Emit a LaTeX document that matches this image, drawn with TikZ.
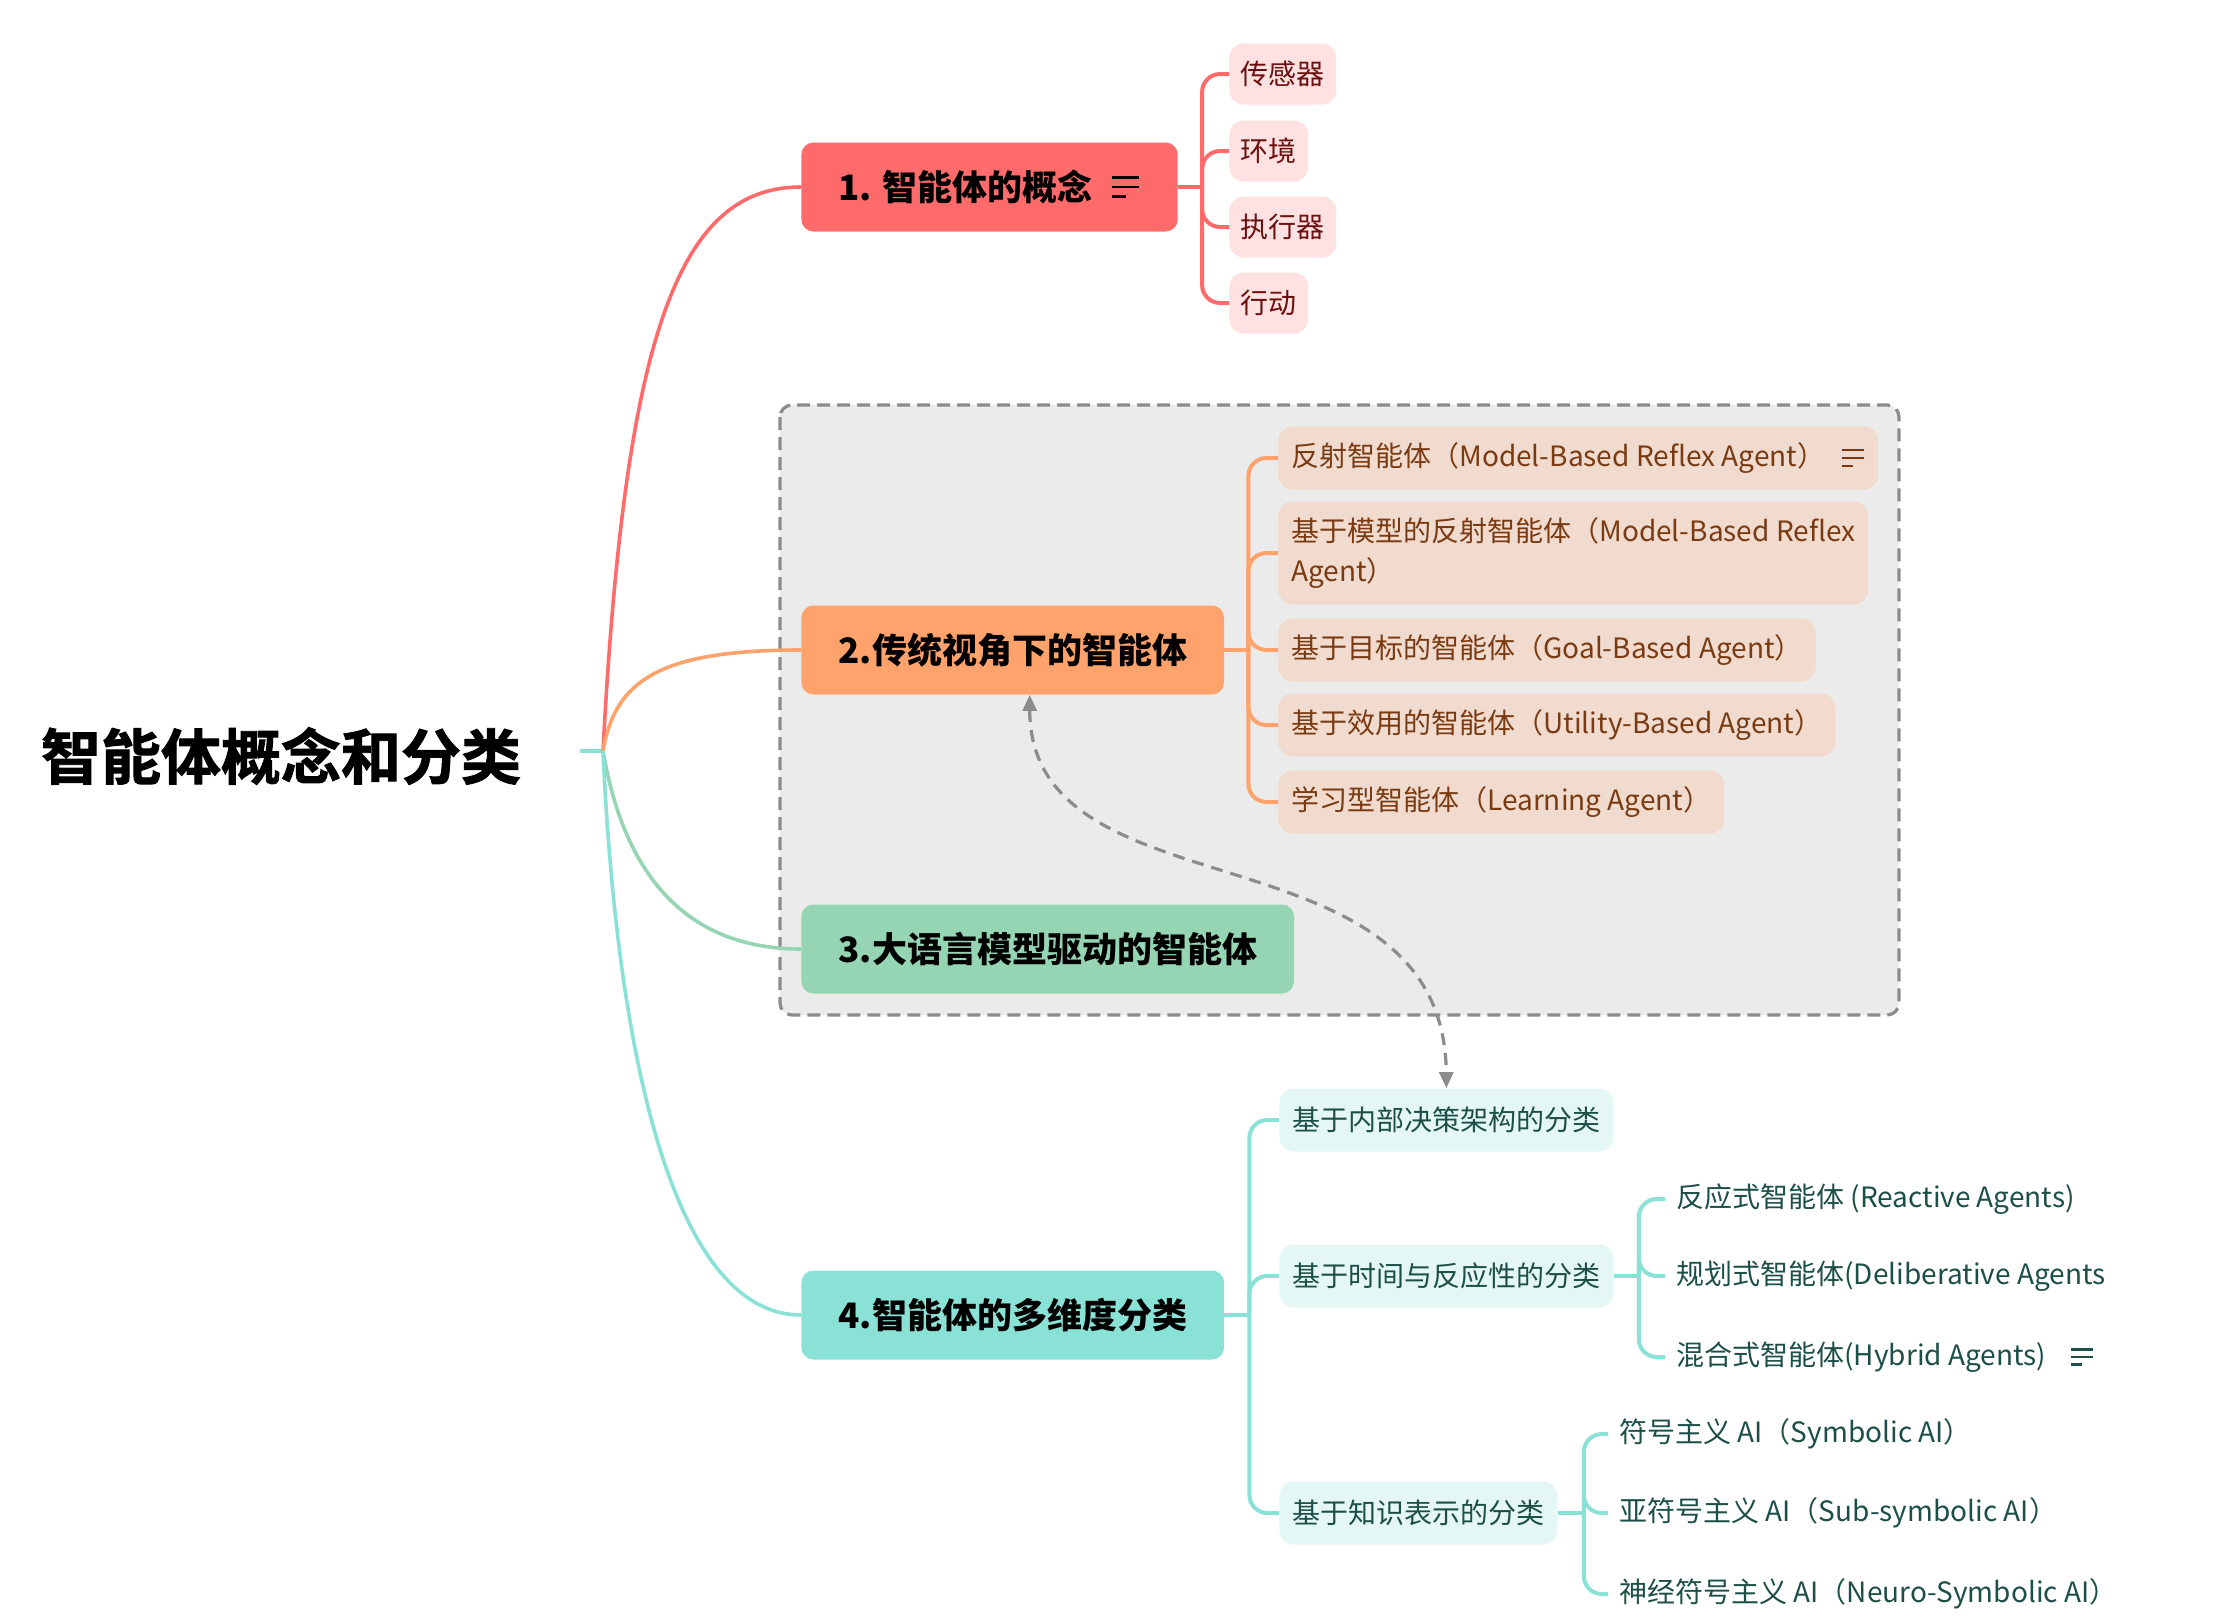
\documentclass[tikz,border=0pt]{standalone}
\usepackage{fontspec}
\setmainfont{Noto Sans CJK SC}
\newfontfamily\titlefont{Noto Sans CJK SC}[UprightFont={* Bold}, FakeBold=1.6]
\usepackage{xcolor}
\definecolor{mapred}{HTML}{FF6B6B}
\definecolor{mappink}{HTML}{FFE1E1}
\definecolor{mapmaroon}{HTML}{6B0F0F}
\definecolor{maporange}{HTML}{FFA26B}
\definecolor{mappeach}{HTML}{F0DBCE}
\definecolor{mapbrown}{HTML}{7A3A12}
\definecolor{mapgreen}{HTML}{95D5B3}
\definecolor{mapteal}{HTML}{8AE1D6}
\definecolor{mapmint}{HTML}{E5F7F4}
\definecolor{mapdark}{HTML}{1C4F47}
\definecolor{mapgray}{HTML}{8C8C8C}
\definecolor{mapbg}{HTML}{EBEBEB}
\usetikzlibrary{positioning,arrows.meta,calc}

% small "notes" marker: three lines
\newcommand\notelines[3][1]{%
  \begin{scope}[shift={(#2)}, scale=#1]
    \draw[#3, line width=1.3pt] (-13,-9.5) -- (14,-9.5) (-13,0) -- (14,0) (-13,9.5) -- (1,9.5);
  \end{scope}}

\begin{document}
\begin{tikzpicture}[
  x=0.5pt, y=-0.5pt,
  topic/.style={anchor=west, rounded corners=6pt, inner xsep=18.5pt, inner ysep=0pt,
                minimum height=44.5pt, text=black,
                font=\fontsize{17.5}{21}\selectfont\bfseries},
  sub/.style={anchor=west, rounded corners=7pt, inner xsep=6.5pt, inner ysep=0pt,
              minimum height=31.5pt, font=\fontsize{14}{20}\selectfont},
  leaf/.style={anchor=west, inner xsep=5.5pt, inner ysep=0pt, font=\fontsize{14}{20}\selectfont},
  branch/.style={line width=2pt, rounded corners=9pt},
  link/.style={mapgray, line width=1.6pt, dash pattern=on 6pt off 4pt,
               {Triangle[length=8pt,width=7pt]}-{Triangle[length=8pt,width=7pt]}}
]
  \useasboundingbox (0,0) rectangle (2236,1622);

  % grouping frame behind topics 2 and 3
  \draw[mapgray, fill=mapbg, line width=1.6pt, dash pattern=on 6.5pt off 3.5pt, rounded corners=6pt]
    (780,405) rectangle (1899,1015);

  % root
  \node[font=\fontsize{30}{36}\selectfont\titlefont] (title) at (281,756) {智能体概念和分类};
  \coordinate (stub) at (580,751);
  \coordinate (root) at (603,751);

  % main topics
  \node[topic, fill=mapred] (n1) at (801,187) {1. 智能体的概念\kern24pt};
  \node[topic, fill=maporange] (n2) at (801,650) {2.传统视角下的智能体};
  \node[topic, fill=mapgreen] (n3) at (801,949) {3.大语言模型驱动的智能体};
  \node[topic, fill=mapteal] (n4) at (801,1315) {4.智能体的多维度分类};
  \notelines{$(n1.east)+(-53,0)$}{black}

  % topic 1
  \begin{scope}[every node/.style={sub, inner xsep=5.7pt, minimum height=30.5pt, fill=mappink, text=mapmaroon}]
    \node (c11) at (1229,74) {传感器};
    \node (c12) at (1229,151) {环境};
    \node (c13) at (1229,227) {执行器};
    \node (c14) at (1229,303) {行动};
  \end{scope}

  % topic 2
  \begin{scope}[every node/.style={sub, fill=mappeach, text=mapbrown}]
    \node (c21) at (1278,458) {反射智能体（Model-Based Reflex Agent）\kern20pt};
    \node[align=left, minimum height=51.5pt] (c22) at (1278,553) {基于模型的反射智能体（Model-Based Reflex\\Agent）};
    \node (c23) at (1278,650) {基于目标的智能体（Goal-Based Agent）};
    \node (c24) at (1278,725) {基于效用的智能体（Utility-Based Agent）};
    \node (c25) at (1278,802) {学习型智能体（Learning Agent）};
  \end{scope}
  \notelines[0.85]{$(c21.east)+(-26,0)$}{mapbrown}

  % topic 4
  \begin{scope}[every node/.style={sub, fill=mapmint, text=mapdark}]
    \node (c41) at (1279,1120) {基于内部决策架构的分类};
    \node (c42) at (1279,1276) {基于时间与反应性的分类};
    \node (c43) at (1279,1513) {基于知识表示的分类};
  \end{scope}
  \begin{scope}[every node/.style={leaf, text=mapdark}]
    \node (s21) at (1665,1199) {反应式智能体 (Reactive Agents)};
    \node (s22) at (1665,1276) {规划式智能体(Deliberative Agents};
    \node (s23) at (1665,1357) {混合式智能体(Hybrid Agents)};
    \node (s31) at (1608,1434) {符号主义 AI（Symbolic AI）};
    \node (s32) at (1608,1513) {亚符号主义 AI（Sub-symbolic AI）};
    \node (s33) at (1608,1594) {神经符号主义 AI（Neuro-Symbolic AI）};
  \end{scope}
  \notelines[0.8]{$(s23.east)+(24,0)$}{mapdark}

  % root to topics
  \draw[mapteal, line width=1.8pt] (stub) -- (root);
  \draw[mapred, line width=1.8pt] (root) .. controls (625,330) and (680,187) .. (n1.west);
  \draw[maporange, line width=1.8pt] (root) .. controls (615,680) and (660,650) .. (n2.west);
  \draw[mapgreen, line width=1.8pt] (root) .. controls (625,880) and (690,949) .. (n3.west);
  \draw[mapteal, line width=1.8pt] (root) .. controls (618,1080) and (680,1315) .. (n4.west);

  % branches
  \coordinate (t1) at ($(n1.east)+(24,0)$);
  \draw[branch, mapred] (n1.east) -- (t1);
  \foreach \c in {c11,c12,c13,c14} \draw[branch, mapred] (t1) |- (\c.west);

  \coordinate (t2) at ($(n2.east)+(24,0)$);
  \draw[branch, maporange] (n2.east) -- (t2);
  \foreach \c in {c21,c22,c23,c24,c25} \draw[branch, maporange] (t2) |- (\c.west);

  \coordinate (t4) at ($(n4.east)+(25,0)$);
  \draw[branch, mapteal] (n4.east) -- (t4);
  \foreach \c in {c41,c42,c43} \draw[branch, mapteal] (t4) |- (\c.west);

  \coordinate (t42) at ($(c42.east)+(25,0)$);
  \draw[branch, mapteal] (c42.east) -- (t42);
  \foreach \c in {s21,s22,s23} \draw[branch, mapteal] (t42) |- (\c.west);

  \coordinate (t43) at ($(c43.east)+(26,0)$);
  \draw[branch, mapteal] (c43.east) -- (t43);
  \foreach \c in {s31,s32,s33} \draw[branch, mapteal] (t43) |- (\c.west);

  % relation between topic 2 and the first classification
  \draw[link] ($(n2.south)+(17,0)$) .. controls (1030,920) and (1444,820) .. (c41.north);
\end{tikzpicture}
\end{document}
